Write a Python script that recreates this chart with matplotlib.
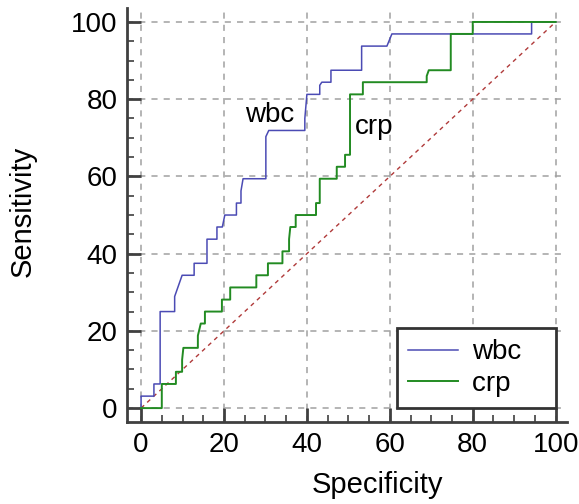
import numpy as np
import matplotlib.pyplot as plt
from matplotlib.ticker import MultipleLocator

plt.rcParams['font.family'] = ['Liberation Sans', 'DejaVu Sans']

# ROC curve vertices (100-specificity, sensitivity)
wbc_x = [0, 0, 3.1, 3.1, 4.6, 4.6, 8.1, 8.1, 9.9, 12.8, 12.8, 15.9, 15.9,
         18.3, 18.3, 19.6, 20.2, 23.0, 23.0, 24.1, 24.1, 24.6, 30.1, 30.1,
         30.8, 39.5, 39.5, 40.0, 43.1, 43.1, 43.6, 45.8, 45.8, 53.2, 53.2,
         59.3, 60.5, 94.2, 94.2, 100]
wbc_y = [0, 3.1, 3.1, 6.25, 6.25, 25.0, 25.0, 28.9, 34.4, 34.4, 37.5, 37.5,
         43.75, 43.75, 46.9, 46.9, 50.0, 50.0, 53.1, 53.1, 56.25, 59.4, 59.4,
         70.3, 71.9, 71.9, 75.0, 81.25, 81.25, 83.6, 84.4, 84.4, 87.5, 87.5,
         93.75, 93.75, 96.9, 96.9, 100, 100]

crp_x = [0, 5.0, 5.0, 8.4, 8.4, 9.9, 9.9, 10.2, 13.7, 13.7, 14.4, 15.4, 15.4,
         19.5, 19.5, 21.5, 21.5, 27.8, 27.8, 30.6, 30.6, 34.1, 34.1, 35.7,
         35.7, 36.0, 37.3, 37.3, 42.2, 42.2, 43.1, 43.1, 47.2, 47.2, 49.2,
         49.2, 50.4, 50.4, 53.5, 53.5, 68.9, 68.9, 69.4, 74.7, 74.7, 80.0,
         80.0, 100]
crp_y = [0, 0, 6.25, 6.25, 9.4, 9.4, 12.5, 15.6, 15.6, 18.75, 21.9, 21.9, 25.0,
         25.0, 28.1, 28.1, 31.25, 31.25, 34.4, 34.4, 37.5, 37.5, 40.6, 40.6,
         43.75, 46.9, 46.9, 50.0, 50.0, 53.1, 53.1, 59.4, 59.4, 62.5, 62.5,
         65.6, 65.6, 81.25, 81.25, 84.4, 84.4, 86.0, 87.5, 87.5, 96.9, 96.9,
         100, 100]

ticks = [0, 20, 40, 60, 80, 100]

fig = plt.figure(figsize=(5.79, 5.04), dpi=100)
ax = fig.add_axes([0.2193, 0.1627, 0.7597, 0.8213])

ax.plot([0, 100], [0, 100], color='#b03a3a', lw=1.0, linestyle=(0, (3, 3)))
ax.plot(wbc_x, wbc_y, color='#4b4bb4', lw=1.1, label='wbc   ')
ax.plot(crp_x, crp_y, color='#228b22', lw=1.4, label='crp   ')

ax.text(31.0, 74.1, 'wbc', fontsize=20, ha='center', va='baseline')
ax.text(56.1, 71.0, 'crp', fontsize=20, ha='center', va='baseline')

ax.set_xlim(-3.4, 102.7)
ax.set_ylim(-3.6, 103.6)
ax.set_xticks(ticks)
ax.set_yticks(ticks)
ax.xaxis.set_minor_locator(MultipleLocator(5))
ax.yaxis.set_minor_locator(MultipleLocator(5))

for s in ['top', 'right']:
    ax.spines[s].set_visible(False)
for s in ['left', 'bottom']:
    ax.spines[s].set_color('#404040')
    ax.spines[s].set_linewidth(2.0)

ax.tick_params(which='major', direction='in', length=10, width=2.0,
               color='#404040', labelsize=20, pad=7)
ax.tick_params(which='minor', direction='in', length=5, width=1.2,
               color='#404040')

ax.grid(True, which='major', color='#a0a0a0', lw=1.1, linestyle=(0, (4, 4)))
ax.set_axisbelow(True)

ax.set_xlabel('Specificity', fontsize=21)
ax.set_ylabel('Sensitivity', fontsize=21)
ax.xaxis.set_label_coords(0.570, -0.118)
ax.yaxis.set_label_coords(-0.205, 0.508)

leg = ax.legend(loc='lower right', bbox_to_anchor=(100, 0),
                bbox_transform=ax.transData, fontsize=20, handlelength=1.8,
                handletextpad=0.5, borderpad=0.4, labelspacing=0.2,
                borderaxespad=0, fancybox=False, framealpha=1)
leg.get_frame().set_edgecolor('#333333')
leg.get_frame().set_linewidth(2.0)

fig.savefig('out.png', dpi=100)
